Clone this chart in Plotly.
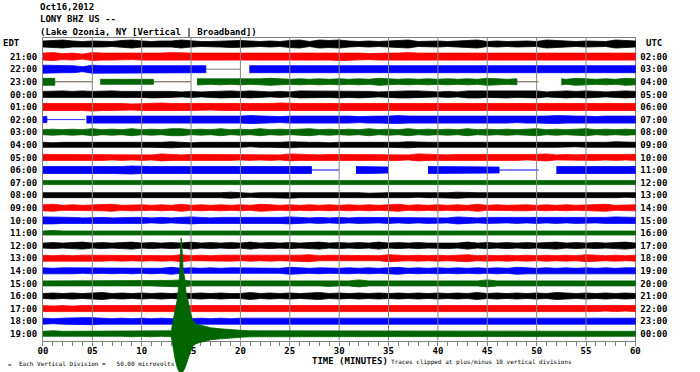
import plotly.graph_objects as go

# ---------------- data ----------------
row_colors = ["#000000", "#ff0000", "#0000ff", "#006400"]
left_labels = ["21:00", "22:00", "23:00", "00:00", "01:00", "02:00", "03:00", "04:00",
               "05:00", "06:00", "07:00", "08:00", "09:00", "10:00", "11:00", "12:00",
               "13:00", "14:00", "15:00", "16:00", "17:00", "18:00", "19:00"]
right_labels = ["02:00", "03:00", "04:00", "05:00", "06:00", "07:00", "08:00", "09:00",
                "10:00", "11:00", "12:00", "13:00", "14:00", "15:00", "16:00", "17:00",
                "18:00", "19:00", "20:00", "21:00", "22:00", "23:00", "00:00"]
minute_ticks = [0, 5, 10, 15, 20, 25, 30, 35, 40, 45, 50, 55, 60]
minute_labels = ["00", "05", "10", "15", "20", "25", "30", "35", "40", "45", "50", "55", "60"]
grid_minutes = [5, 10, 15, 20, 25, 30, 35, 40, 45, 50, 55]

# trace envelope half-width, in half-pixel units, read per minute 0..60 for each hourly row
envelopes = [
    "6786566578 6566865567 7656578587 8656567856 6567856566 5876566587 6",
    "7867587776 7778777787 7778777777 8776777877 7877887777 8777787877 7",
    "8877587777 7787777666 6777777778 7787778777 7787787777 7777787787 7",
    "7766565656 6565656565 6567656565 6565765656 5656576565 6565765657 6",
    "6776767766 6776565677 6765657766 7676567776 5657766766 7567676567 6",
    "7777787776 7787777677 7777877777 7787777778 7777777877 7777877777 7",
    "6666777677 7677767777 7877677787 7767778776 7777677767 7787776777 7",
    "5656575657 5657756575 6575656756 5657565756 5657565656 7565675656 5",
    "5455555445 5556545555 5455565554 5545555655 5554555545 5555455565 5",
    "6656566565 6576566566 5656576656 6565666576 6566565665 6756566565 6",
    "7777677778 7777767777 7767777776 6777767777 7777776666 6677776777 7",
    "4444454444 4545444444 4454444544 4444445444 4544444454 4445444444 4",
    "5545555455 5555554556 5455565555 5554555545 5565555455 5545555554 5",
    "6756566756 6565756565 6576565656 5656567565 6565756566 5656566756 6",
    "7766566566 6565676566 5656676565 6566565656 6576566565 6565665676 6",
    "4544444454 4444544454 4444544444 4445444454 4454444444 4444544444 4",
    "5656756567 5656575656 5756565675 6565756565 5657565656 5675656567 5",
    "6565666565 6565756566 5656566756 6565576565 6567565656 5656576565 6",
    "6566565656 5657565656 6565576565 5656567565 6565656576 5656565656 6",
    "5556555655 5556755565 5565555556 5575555655 5555575555 5655555565 5",
    "5656567565 6565656565 5756565675 6565656565 6565756565 6576565656 5",
    "6565666565 6565656566 5656566565 6565656565 6566565656 5656566565 6",
    "6567776565 6565656565 6656565656 5656566565 6565656665 6566565656 6",
    "5655565556 5655565556 5556555655 5655565556 5655565556 5556555655 5",
]

# recorded-data segments (minutes); rows not listed run 0-60
data_segments = {
    2: [(0, 16.5), (20.9, 60)],
    3: [(0, 1.2), (5.8, 11.2), (15.6, 48.0), (52.5, 60)],
    6: [(0, 0.4), (4.4, 60)],
    10: [(0, 27.2), (31.7, 35.0), (39.0, 46.2), (52.0, 60)],
}
# flat (dead) signal segments
flat_segments = {
    2: [(16.5, 20.0)],
    3: [(1.2, 5.0), (11.2, 15.0), (48.0, 50.2)],
    6: [(0.4, 4.3)],
    10: [(27.2, 30.0), (46.2, 50.2)],
}
flat_colors = {2: "#7a7a7a", 3: "#5e4e3e", 6: "#3030ff", 10: "#0000ff"}

# earthquake on the 19:00 row (envelope in pixels, above / below baseline)
quake_min = [13.0, 13.2, 13.4, 13.6, 13.8, 13.95, 14.0, 14.1, 14.2, 14.35, 14.5, 14.7,
             14.9, 15.2, 15.5, 15.8, 16.3, 17.0, 18.0, 19.0, 20.0, 21.0, 22.0]
quake_up = [3, 14, 24, 34, 52, 82, 96, 82, 64, 56, 40, 33,
            22, 13, 10, 9, 7.5, 6, 5, 4, 3.5, 3, 3]
quake_down = [3, 15, 26, 34, 38, 40, 40, 39, 38, 35, 31, 26,
              19, 12, 10, 9, 7.5, 6, 5, 4, 3.5, 3, 3]

# ---------------- geometry ----------------
W, H = 700, 372
PX_ROW = 12.6          # pixels between hourly rows
ROW0 = 44.0            # pixel y of first row
X0, X1 = 38.5, 639.5   # pixel x of minute 0 and 60
PX_MIN = (X1 - X0) / 60.0
TOP, BOT = 37.5, 340.5

y_main = [(BOT - ROW0) / PX_ROW, (TOP - ROW0) / PX_ROW]
y_full = [(H - ROW0) / PX_ROW, (0 - ROW0) / PX_ROW]
x_full = [(0 - X0) / PX_MIN, (W - X0) / PX_MIN]

fig = go.Figure()


def amp_list(s):
    vals = [0.5 * float(c) for c in s.replace(" ", "")]
    assert len(vals) == 61, (s, len(vals))
    return vals


def band(row, segs, amps):
    xs, ys = [], []
    for s, e in segs:
        nodes = [s] + [m for m in range(0, 61) if s < m < e] + [e]
        a = [amps[int(round(n))] / PX_ROW for n in nodes]
        xs += nodes + nodes[::-1] + [None]
        ys += [row - v for v in a] + [row + v for v in a[::-1]] + [None]
    return xs, ys


n_rows = len(envelopes)
for r in range(n_rows - 1):
    col = row_colors[r % 4]
    amps = amp_list(envelopes[r])
    segs = data_segments.get(r, [(0, 60)])
    xs, ys = band(r, segs, amps)
    fig.add_trace(go.Scatter(x=xs, y=ys, mode="lines", fill="toself", fillcolor=col,
                             line=dict(color=col, width=0.8), xaxis="x2", yaxis="y2",
                             hoverinfo="skip", showlegend=False))
    if r in flat_segments:
        fx, fy = [], []
        for s, e in flat_segments[r]:
            fx += [s, e, None]
            fy += [r, r, None]
        fig.add_trace(go.Scatter(x=fx, y=fy, mode="lines",
                                 line=dict(color=flat_colors[r], width=1),
                                 xaxis="x2", yaxis="y2", hoverinfo="skip", showlegend=False))

# grid lines (drawn over the traces as in the original)
gx, gy = [], []
for m in grid_minutes:
    gx += [m, m, None]
    gy += [y_main[1], y_main[0], None]
fig.add_trace(go.Scatter(x=gx, y=gy, mode="lines", line=dict(color="#858585", width=1),
                         xaxis="x2", yaxis="y2", hoverinfo="skip", showlegend=False))

# last row with the earthquake
r = n_rows - 1
col = row_colors[r % 4]
amps = amp_list(envelopes[r])
before = [m for m in range(0, 61) if m < quake_min[0]]
after = [m for m in range(0, 61) if m > quake_min[-1]]
qx = before + quake_min + after
up = [amps[m] for m in before] + quake_up + [amps[m] for m in after]
dn = [amps[m] for m in before] + quake_down + [amps[m] for m in after]
xs = qx + qx[::-1]
ys = [r - u / PX_ROW for u in up] + [r + d / PX_ROW for d in dn[::-1]]
fig.add_trace(go.Scatter(x=xs, y=ys, mode="lines", fill="toself", fillcolor=col,
                         line=dict(color=col, width=0.8), xaxis="x2", yaxis="y2",
                         hoverinfo="skip", showlegend=False))

# anchor traces for the labelled axes
fig.add_trace(go.Scatter(x=[None], y=[None], xaxis="x", yaxis="y", showlegend=False))
fig.add_trace(go.Scatter(x=[None], y=[None], xaxis="x", yaxis="y3", showlegend=False))

FONT = "DejaVu Sans Mono"
lab_font = dict(family=FONT, size=9, color="#000000", weight="bold")
row_ticks = list(range(1, n_rows))

fig.update_layout(
    width=W, height=H, autosize=False,
    margin=dict(l=0, r=0, t=0, b=0),
    paper_bgcolor="white", plot_bgcolor="rgba(0,0,0,0)",
    showlegend=False,
    xaxis=dict(domain=[X0 / W, X1 / W], range=[0, 60], anchor="y",
               showline=True, mirror=True, linecolor="#808080", linewidth=1,
               showgrid=False, zeroline=False,
               tickmode="array", tickvals=minute_ticks, ticktext=minute_labels,
               ticks="outside", ticklen=4, tickcolor="#808080", tickwidth=1,
               ticklabelstandoff=-2,
               minor=dict(ticks="outside", dtick=1, tick0=0, ticklen=4,
                          tickcolor="#808080", tickwidth=1, showgrid=False),
               tickfont=lab_font),
    yaxis=dict(domain=[(H - BOT) / H, (H - TOP) / H], range=y_main, anchor="x",
               showline=True, mirror=True, linecolor="#808080", linewidth=1,
               showgrid=False, zeroline=False, ticklabelstandoff=3,
               tickmode="array", tickvals=row_ticks, ticktext=left_labels,
               ticks="", tickfont=lab_font),
    yaxis3=dict(overlaying="y", side="right", range=y_main, anchor="x",
                showline=False, showgrid=False, zeroline=False, ticklabelstandoff=4,
                tickmode="array", tickvals=row_ticks, ticktext=right_labels,
                ticks="", tickfont=lab_font),
    xaxis2=dict(domain=[0, 1], range=x_full, anchor="y2", visible=False),
    yaxis2=dict(domain=[0, 1], range=y_full, anchor="x2", visible=False),
)

ann = [
    ("Oct16,2012", 33, 7.5),
    ("LONY BHZ US --", 33, 19.5),
    ("(Lake Ozonia, NY [Vertical | Broadband])", 33, 31.5),
    ("EDT", -4, 43),
    ("UTC", 648, 43),
    ("TIME (MINUTES)", 309, 361),
]
for text, px, py in ann:
    fig.add_annotation(text=text, xref="paper", yref="paper", x=px / W, y=1 - py / H,
                       xanchor="left", yanchor="middle", showarrow=False,
                       font=dict(family=FONT, size=9, color="#000000", weight="bold"))

small = [
    ("≈", 1, 364),
    ("Each Vertical Division =   50.00 microvolts", 12, 363),
    ("Traces clipped at plus/minus 10 vertical divisions", 390, 362),
]
for text, px, py in small:
    fig.add_annotation(text=text, xref="paper", yref="paper", x=px / W, y=1 - py / H,
                       xanchor="left", yanchor="middle", showarrow=False,
                       font=dict(family=FONT, size=6, color="#000000"))

fig.write_html("out.html")
